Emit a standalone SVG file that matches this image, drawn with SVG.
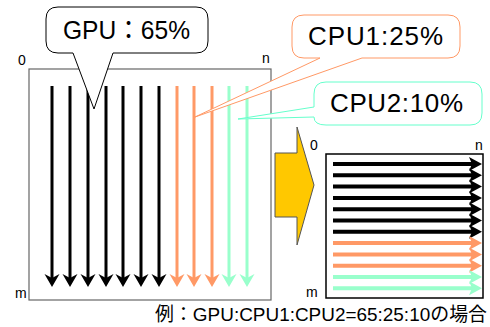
<svg xmlns="http://www.w3.org/2000/svg" width="490" height="327" viewBox="0 0 490 327">
<style>
text{font-family:"Liberation Sans","Noto Sans CJK JP",Arial,sans-serif;fill:#000}
.ax{font-size:14px}
.big{font-size:26px}
.v{stroke-width:3;fill:none}
.h{stroke-width:4;fill:none}
.k{stroke:#000}.kf{fill:#000}
.o{stroke:#FF9966}.of{fill:#FF9966}
.g{stroke:#99FFCC}.gf{fill:#99FFCC}
</style>
<defs>
<path id="vh" d="M0,0 L-7.5,-13 L0,-9 L7.5,-13 Z"/>
<path id="hh" d="M0,0 L-13,-7 L-10,0 L-13,7 Z"/>
</defs>
<rect width="490" height="327" fill="#fff"/>
<g id="matrix-left">
<rect x="29" y="69" width="242" height="231" fill="#fff" stroke="#666" stroke-width="1.2"/>
<text class="ax" x="18" y="65">0</text>
<text class="ax" x="262" y="63">n</text>
<text class="ax" x="15" y="298">m</text>
</g>
<g id="connectors">
<g class="v k"><path d="M52,86V280M70,86V280M88,86V280M106,86V280M123,86V280M141,86V280M159,86V280"/></g>
<g class="v o"><path d="M177,86V280M194,86V280M212,86V280"/></g>
<g class="v g"><path d="M229,86V280M247,86V280"/></g>
<g class="kf"><use href="#vh" x="52" y="287"/><use href="#vh" x="70" y="287"/><use href="#vh" x="88" y="287"/><use href="#vh" x="106" y="287"/><use href="#vh" x="123" y="287"/><use href="#vh" x="141" y="287"/><use href="#vh" x="159" y="287"/></g>
<g class="of"><use href="#vh" x="177" y="287"/><use href="#vh" x="194" y="287"/><use href="#vh" x="212" y="287"/></g>
<g class="gf"><use href="#vh" x="229" y="287"/><use href="#vh" x="247" y="287"/></g>
<g class="h k"><path d="M333,164H474M333,175.3H474M333,186.6H474M333,197.9H474M333,209.2H474M333,220.5H474M333,231.8H474"/></g>
<g class="h o"><path d="M333,243.1H474M333,254.4H474M333,265.7H474"/></g>
<g class="h g"><path d="M333,277H474M333,288.3H474"/></g>
<g class="kf"><use href="#hh" x="482" y="164"/><use href="#hh" x="482" y="175.3"/><use href="#hh" x="482" y="186.6"/><use href="#hh" x="482" y="197.9"/><use href="#hh" x="482" y="209.2"/><use href="#hh" x="482" y="220.5"/><use href="#hh" x="482" y="231.8"/></g>
<g class="of"><use href="#hh" x="482" y="243.1"/><use href="#hh" x="482" y="254.4"/><use href="#hh" x="482" y="265.7"/></g>
<g class="gf"><use href="#hh" x="482" y="277"/><use href="#hh" x="482" y="288.3"/></g>
</g>
<g id="matrix-right">
<rect x="326" y="154" width="157" height="144" fill="none" stroke="#000" stroke-width="1.5"/>
<text class="ax" x="310" y="150">0</text>
<text class="ax" x="475" y="150">n</text>
<text class="ax" x="306" y="297">m</text>
</g>
<g id="transform-arrow">
<polygon points="275,153 297,153 297,127 314,185 297,245 297,217 275,217" fill="#FFC800" stroke="#555" stroke-width="1"/>
</g>
<g id="callout-gpu">
<path d="M58,7 H196 Q208,7 208,19 V41 Q208,53 196,53 H113 L94,109 L73,53 H58 Q46,53 46,41 V19 Q46,7 58,7 Z" fill="#fff" stroke="#000" stroke-width="1"/>
<text class="big" x="63" y="39" textLength="127" lengthAdjust="spacingAndGlyphs">GPU：65%</text>
</g>
<g id="callout-cpu1">
<path d="M304,15 H448 Q460,15 460,27 V46 Q460,58 448,58 H362 L195,117 L320,58 H304 Q292,58 292,46 V27 Q292,15 304,15 Z" fill="#fff" stroke="#FF9966" stroke-width="1"/>
<text class="big" x="308" y="45" textLength="135" lengthAdjust="spacing">CPU1:25%</text>
</g>
<g id="callout-cpu2">
<path d="M326,82 H470 Q482,82 482,94 V113 Q482,125 470,125 H326 Q314,125 314,117 L238,119 L314,107 V94 Q314,82 326,82 Z" fill="#fff" stroke="#66FFCC" stroke-width="1"/>
<text class="big" x="330" y="112" textLength="133" lengthAdjust="spacing">CPU2:10%</text>
</g>
<g id="caption">
<text x="155" y="321" font-size="19" textLength="332" lengthAdjust="spacingAndGlyphs">例：GPU:CPU1:CPU2=65:25:10の場合</text>
</g>
</svg>
